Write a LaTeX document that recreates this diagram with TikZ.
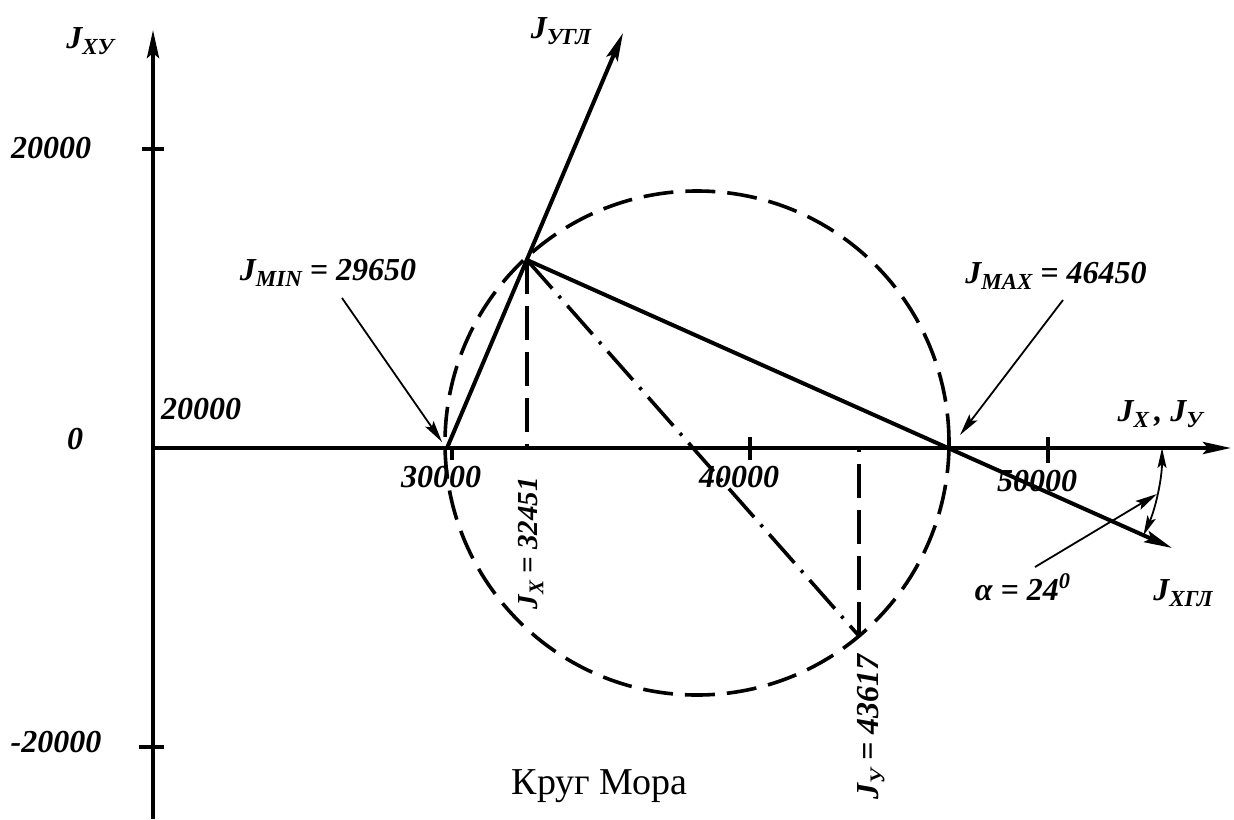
\documentclass[tikz,border=0pt]{standalone}
\usepackage{fontspec}
\setmainfont{Liberation Serif}
\usetikzlibrary{arrows.meta}
\newcommand{\sbs}[1]{\raisebox{-0.45ex}{\fontsize{11.5}{12}\selectfont #1}}
\newcommand{\sbsr}[1]{\raisebox{-0.4ex}{\fontsize{10.5}{11}\selectfont #1}}
\begin{document}
\begin{tikzpicture}[x=0.5pt,y=-0.5pt,
  axisline/.style={line width=2pt},
  mainline/.style={line width=2pt},
  tickline/.style={line width=2pt},
  thinline/.style={line width=0.9pt},
  dashline/.style={line width=1.8pt, dash pattern=on 17pt off 6pt},
  circline/.style={line width=1.8pt, dash pattern=on 15pt off 6pt},
  dashdotline/.style={line width=1.8pt, dash pattern=on 19pt off 5pt on 1.5pt off 5pt},
  bigtip/.style={-{Stealth[length=14pt,width=6pt,inset=2.5pt]}},
  smalltip/.style={-{Stealth[length=11pt,width=5pt,inset=2pt]}},
  arctips/.style={{Stealth[length=10pt,width=4.5pt,inset=2pt]}-{Stealth[length=10pt,width=4.5pt,inset=2pt]}},
  lbl/.style={inner sep=0pt, font=\fontsize{16}{19}\selectfont\bfseries\itshape},
  rlbl/.style={inner sep=0pt, rotate=90, font=\fontsize{14.5}{17}\selectfont\bfseries\itshape},
  rlblb/.style={inner sep=0pt, rotate=90, font=\fontsize{16}{19}\selectfont\bfseries\itshape},
  title/.style={inner sep=0pt, font=\fontsize{19}{22}\selectfont}]
\useasboundingbox (0,0) rectangle (1234,819);
% axes
\coordinate (O) at (153,448);
\coordinate (Ytop) at (153,30);
\coordinate (Ybot) at (153,819);
\coordinate (Xend) at (1231,448);
\draw[axisline,bigtip] (Ybot) -- (Ytop);
\draw[axisline,bigtip] (O) -- (Xend);
% ticks
\draw[tickline] (142,149) -- (164,149);
\draw[tickline] (139,747) -- (164,747);
\draw[tickline] (452,448) -- (452,460);
\draw[tickline] (750,437) -- (750,460);
\draw[tickline] (1048,437) -- (1048,463);
% key points
\coordinate (C) at (697,443);
\coordinate (Jmin) at (447,448);
\coordinate (Jmax) at (947,448);
\coordinate (A) at (527,260);
\coordinate (B) at (859,636);
\coordinate (Ugl) at (623,33);
\coordinate (Xgl) at (1172,548);
% Mohr circle
\draw[circline] (C) ellipse [x radius=252, y radius=252];
% lines
\draw[mainline,bigtip] (Jmin) -- (Ugl);
\draw[mainline,bigtip] (A) -- (Xgl);
\draw[dashdotline] (A) -- (B);
\draw[dashline] (A) -- (A |- O);
\draw[dashline] (B) -- (B |- O);
% angle arc
\coordinate (ArcS) at (1162,448);
\draw[thinline,arctips] (ArcS) arc[start angle=0,end angle=-24,radius=107.5pt];
% pointers
\coordinate (JminS) at (342,298);
\coordinate (JminE) at (442,442);
\coordinate (JmaxS) at (1063,300);
\coordinate (JmaxE) at (960,435);
\coordinate (AlS) at (1035,567);
\coordinate (AlE) at (1157,494);
\draw[thinline,smalltip] (JminS) -- (JminE);
\draw[thinline,smalltip] (JmaxS) -- (JmaxE);
\draw[thinline,smalltip] (AlS) -- (AlE);
% labels
\node[lbl] (lJxy) at (90,41) {J\sbs{XУ}};
\node[lbl] (l20a) at (51,148) {20000};
\node[lbl] (l0) at (75,439) {0};
\node[lbl] (l20b) at (201,409) {20000};
\node[lbl] (lm20) at (56,742) {-20000};
\node[lbl] (l30) at (441,477) {30000};
\node[lbl] (l40) at (739,477) {40000};
\node[lbl] (l50) at (1037,481) {50000};
\node[lbl] (lJmin) at (328,273) {J\sbs{MIN} = 29650};
\node[lbl] (lJmax) at (1056,276) {J\sbs{MAX} = 46450};
\node[lbl] (lJxJy) at (1160,414) {J\sbs{X}\,, J\sbs{У}};
\node[lbl] (lUgl) at (561,31) {J\sbs{УГЛ}};
\node[lbl] (lXgl) at (1183,593) {J\sbs{XГЛ}};
\node[lbl] (lal) at (1023,587) {α = 24\textsuperscript{0}};
\node[rlbl] (lJx) at (531,543) {J\sbsr{X} = 32451};
\node[rlblb] (lJy) at (871,727) {J\sbsr{У} = 43617};
\node[title,anchor=base east] (ttl) at (688,794) {Круг Мора};
\end{tikzpicture}
\end{document}
